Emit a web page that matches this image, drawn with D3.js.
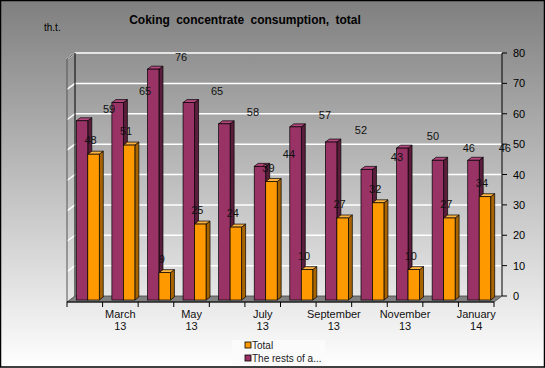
<!DOCTYPE html>
<html>
<head>
<meta charset="utf-8">
<script src="https://cdn.jsdelivr.net/npm/d3@7"></script>
<style>
  body { margin: 0; padding: 0; }
  svg { display: block; font-family: 'Liberation Sans', Arial, sans-serif; }
</style>
</head>
<body>
<svg id="chart" width="545" height="368"></svg>
<script>
const months = ['February', 'March', 'April', 'May', 'June', 'July', 'August', 'September', 'October', 'November', 'December', 'January'];
const years = ['13', '13', '13', '13', '13', '13', '13', '13', '13', '13', '13', '14'];
const totalValues = [48, 51, 9, 25, 24, 39, 10, 27, 32, 10, 27, 34];
const restValues = [59, 65, 76, 65, 58, 44, 57, 52, 43, 50, 46, 46];
const yTicks = [0, 10, 20, 30, 40, 50, 60, 70, 80];
const seriesNames = ['The rests of a...', 'Total'];

const svg = d3.select('#chart');
const W = 545, H = 368;

// background gradient
const defs = svg.append('defs');
const grad = defs.append('linearGradient').attr('id', 'bg').attr('x1', 0).attr('y1', 0).attr('x2', 0).attr('y2', 1);
grad.append('stop').attr('offset', '0%').attr('stop-color', '#7f7f7f');
grad.append('stop').attr('offset', '100%').attr('stop-color', '#ffffff');
svg.append('rect').attr('x', 0).attr('y', 0).attr('width', W).attr('height', H).attr('fill', 'url(#bg)');

// 3d frame: front plane and depth shift
const left = 67, right = 494;
const dx = 8, dy = -6;

const xScale = d3.scaleBand()
    .domain(months.map((m, i) => i))
    .range([left, right]);

const yScale = d3.scaleLinear()
    .domain([0, 80])
    .range([302, 59]);

const inner = d3.scaleBand()
    .domain(seriesNames)
    .range([0, xScale.bandwidth()])
    .paddingOuter(0.55);

// gridlines on back wall + left wall
const grid = svg.append('g');
grid.selectAll('line.back')
    .data(yTicks.filter(d => d > 0))
    .join('line')
    .attr('x1', left + dx).attr('x2', right + dx)
    .attr('y1', d => yScale(d) + dy).attr('y2', d => yScale(d) + dy)
    .attr('stroke', '#ffffff').attr('stroke-width', 1.5);
grid.selectAll('line.side')
    .data(yTicks.filter(d => d > 0))
    .join('line')
    .attr('x1', left).attr('x2', left + dx)
    .attr('y1', d => yScale(d)).attr('y2', d => yScale(d) + dy)
    .attr('stroke', '#ffffff').attr('stroke-width', 1.5);

// left wall edges
svg.append('line')
    .attr('x1', left + dx).attr('x2', left + dx)
    .attr('y1', yScale(80) + dy).attr('y2', yScale(0) + dy)
    .attr('stroke', '#000');
svg.append('line')
    .attr('x1', left).attr('x2', left)
    .attr('y1', yScale(80)).attr('y2', yScale(0))
    .attr('stroke', '#555');
svg.append('line')
    .attr('x1', left).attr('x2', left + dx)
    .attr('y1', yScale(80)).attr('y2', yScale(80) + dy)
    .attr('stroke', '#555');

// floor
svg.append('polygon')
    .attr('points', [[left, yScale(0)], [right, yScale(0)], [right + dx, yScale(0) + dy], [left + dx, yScale(0) + dy]].join(' '))
    .attr('fill', '#808080')
    .attr('stroke', '#444')
    .attr('stroke-width', 0.8);

// right value axis on the back plane
const axisX = right + dx;
svg.append('line')
    .attr('x1', axisX).attr('x2', axisX)
    .attr('y1', yScale(80) + dy).attr('y2', yScale(0) + dy)
    .attr('stroke', '#000');
const yAxis = svg.append('g');
yAxis.selectAll('line')
    .data(yTicks)
    .join('line')
    .attr('x1', axisX).attr('x2', axisX + 5)
    .attr('y1', d => yScale(d) + dy).attr('y2', d => yScale(d) + dy)
    .attr('stroke', '#000');
yAxis.selectAll('text')
    .data(yTicks)
    .join('text')
    .attr('x', axisX + 11)
    .attr('y', d => yScale(d) + dy + 4)
    .attr('font-size', 11)
    .text(d => d);

// x axis line + ticks + labels
svg.append('line')
    .attr('x1', left).attr('x2', right)
    .attr('y1', yScale(0)).attr('y2', yScale(0))
    .attr('stroke', '#000');
const ticks = months.map((m, i) => xScale(i)).concat([right]);
svg.selectAll('line.xtick')
    .data(ticks)
    .join('line')
    .attr('class', 'xtick')
    .attr('x1', d => d).attr('x2', d => d)
    .attr('y1', yScale(0)).attr('y2', yScale(0) + 5)
    .attr('stroke', '#000');
const xLabels = svg.append('g')
    .selectAll('text')
    .data(months.map((m, i) => ({ m, y: years[i], i })).filter(d => d.i % 2 === 1))
    .join('text')
    .attr('text-anchor', 'middle')
    .attr('font-size', 11)
    .attr('fill', '#111');
xLabels.append('tspan')
    .attr('x', d => xScale(d.i) + xScale.bandwidth() / 2)
    .attr('y', 318)
    .text(d => d.m);
xLabels.append('tspan')
    .attr('x', d => xScale(d.i) + xScale.bandwidth() / 2)
    .attr('y', 330)
    .text(d => d.y);

// bars (front face + side + top)
const barShiftX = 3, barShiftY = -2;
const bdx = 4, bdy = -3;
const colors = {
    'Total': { front: '#ff9900', side: '#a86400', top: '#ffb340' },
    'The rests of a...': { front: '#993366', side: '#5a1d3b', top: '#b3467d' }
};

function drawBar(g, x, w, v, c) {
    const x0 = x + barShiftX;
    const y0 = yScale(0) + barShiftY;
    const y1 = yScale(v) + barShiftY;
    g.append('polygon')
        .attr('points', [[x0 + w, y1], [x0 + w + bdx, y1 + bdy], [x0 + w + bdx, y0 + bdy], [x0 + w, y0]].join(' '))
        .attr('fill', c.side).attr('stroke', '#000').attr('stroke-width', 0.7);
    g.append('polygon')
        .attr('points', [[x0, y1], [x0 + bdx, y1 + bdy], [x0 + w + bdx, y1 + bdy], [x0 + w, y1]].join(' '))
        .attr('fill', c.top).attr('stroke', '#000').attr('stroke-width', 0.7);
    g.append('rect')
        .attr('x', x0).attr('y', y1)
        .attr('width', w).attr('height', y0 - y1)
        .attr('fill', c.front).attr('stroke', '#000').attr('stroke-width', 0.7);
}

const bars = svg.append('g');
months.forEach((m, i) => {
    const g = bars.append('g');
    drawBar(g, xScale(i) + inner('The rests of a...'), inner.bandwidth(), restValues[i], colors['The rests of a...']);
    drawBar(g, xScale(i) + inner('Total'), inner.bandwidth(), totalValues[i], colors['Total']);
});

// data labels
const labels = svg.append('g').attr('font-size', 11).attr('fill', '#111').attr('text-anchor', 'middle');
labels.selectAll('text.tot')
    .data(totalValues)
    .join('text')
    .attr('x', (d, i) => xScale(i) + inner('Total') + inner.bandwidth() / 2 + barShiftX - 3)
    .attr('y', d => yScale(d) + barShiftY - 10)
    .text(d => d);
labels.selectAll('text.rest')
    .data(restValues)
    .join('text')
    .attr('x', (d, i) => xScale(i) + inner('The rests of a...') + inner.bandwidth() / 2 + barShiftX + 27 + i * 0.4)
    .attr('y', d => yScale(d) + barShiftY - 8)
    .text(d => d);

// title and unit
svg.append('text')
    .attr('x', 245).attr('y', 24)
    .attr('text-anchor', 'middle')
    .attr('font-size', 12).attr('font-weight', 'bold')
    .attr('word-spacing', 3)
    .text('Coking concentrate consumption, total');
svg.append('text')
    .attr('x', 44).attr('y', 31)
    .attr('font-size', 10)
    .text('th.t.');

// legend
const legend = svg.append('g');
legend.append('rect')
    .attr('x', 232).attr('y', 340).attr('width', 93).attr('height', 25)
    .attr('fill', '#fbfbfb');
const legendItems = ['Total', 'The rests of a...'];
legendItems.forEach((name, i) => {
    legend.append('rect')
        .attr('x', 245).attr('y', 342 + i * 13)
        .attr('width', 6).attr('height', 6)
        .attr('fill', colors[name].front).attr('stroke', '#000').attr('stroke-width', 0.8);
    legend.append('text')
        .attr('x', 252).attr('y', 349 + i * 13)
        .attr('font-size', 10)
        .attr('fill', '#222')
        .text(name);
});

// outer border
svg.append('rect')
    .attr('x', 0.5).attr('y', 0.5).attr('width', W - 1).attr('height', H - 1.5)
    .attr('fill', 'none').attr('stroke', '#000').attr('stroke-width', 1.5);
</script>
</body>
</html>
